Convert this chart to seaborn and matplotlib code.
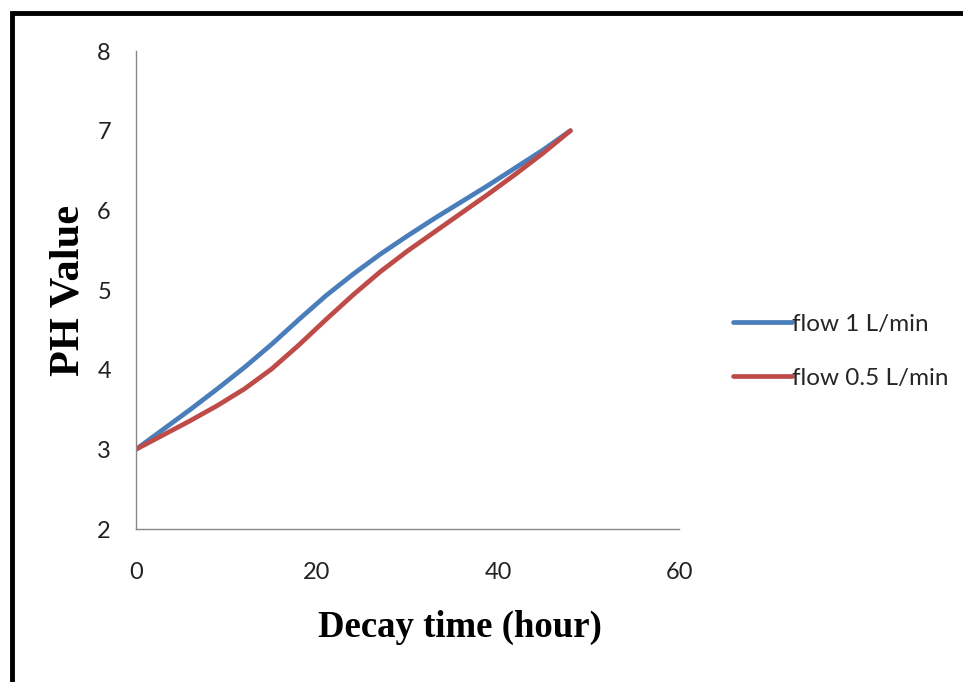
"""PH value vs decay time for two flow rates."""
import pandas as pd
import matplotlib.pyplot as plt
import seaborn as sns
from matplotlib.patches import Rectangle

# values
hours = [0, 3, 6, 9, 12, 15, 18, 21, 24, 27, 30, 33, 36, 39, 42, 45, 48]
ph_flow_1 = [3.0, 3.25, 3.5, 3.76, 4.03, 4.32, 4.63, 4.93, 5.2, 5.45, 5.68,
             5.90, 6.11, 6.32, 6.54, 6.76, 7.0]
ph_flow_05 = [3.0, 3.18, 3.36, 3.55, 3.76, 4.01, 4.31, 4.63, 4.94, 5.23, 5.49,
              5.73, 5.97, 6.21, 6.46, 6.72, 7.0]
series_names = ['flow 1 L/min', 'flow 0.5 L/min']
colors = ['#4A7EBB', '#BE4B48']
x_ticks = [0, 20, 40, 60]
y_ticks = [2, 3, 4, 5, 6, 7, 8]

df = pd.concat([
    pd.DataFrame({'hour': hours, 'ph': ph_flow_1, 'series': series_names[0]}),
    pd.DataFrame({'hour': hours, 'ph': ph_flow_05, 'series': series_names[1]}),
])

sns.set_style('white')
plt.rcParams['font.family'] = ['Lato', 'DejaVu Sans']

fig = plt.figure(figsize=(9.63, 6.82), dpi=100)
ax = fig.add_axes([0.1412, 0.2243, 0.5639, 0.7009])

sns.lineplot(data=df, x='hour', y='ph', hue='series', hue_order=series_names,
             palette=colors, linewidth=3.4, ax=ax, legend=False,
             solid_capstyle='round', solid_joinstyle='round')

ax.set_xlim(0, 60)
ax.set_ylim(2, 8)
ax.set_xticks(x_ticks)
ax.set_yticks(y_ticks)
ax.tick_params(length=0, labelsize=17, colors='#222222')
ax.tick_params(axis='y', pad=18)
ax.tick_params(axis='x', pad=24)
for side in ['top', 'right']:
    ax.spines[side].set_visible(False)
for side in ['left', 'bottom']:
    ax.spines[side].set_color('#888888')
    ax.spines[side].set_linewidth(1.0)

ax.set_xlabel('Decay time (hour)', fontfamily='Liberation Serif',
              fontweight='bold', fontsize=26.5, color='black')
ax.xaxis.set_label_coords(0.597, -0.17)
ax.set_ylabel('PH Value', fontfamily='Liberation Serif',
              fontweight='bold', fontsize=30.5, color='black')
ax.yaxis.set_label_coords(-0.09, 0.5)

handles = [plt.Line2D([], [], color=c, lw=3.4, solid_capstyle='round') for c in colors]
fig.legend(handles, series_names, loc='center left',
           bbox_to_anchor=(0.761, 0.485), frameon=False, fontsize=17.5,
           handlelength=2.45, handletextpad=0.0, labelspacing=1.35,
           borderpad=0, borderaxespad=0)

# thick picture frame cut off at right and bottom
fig.add_artist(Rectangle((12 / 963, -0.1), 1.1, 1.1 - 13 / 682,
                         transform=fig.transFigure, fill=False,
                         edgecolor='black', linewidth=3.5, clip_on=False))

fig.savefig('out.png', dpi=100)
